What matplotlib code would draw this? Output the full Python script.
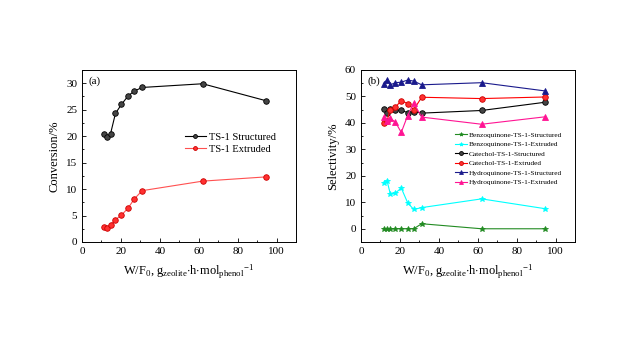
import numpy as np
import matplotlib
matplotlib.use('Agg')
import matplotlib.pyplot as plt
import matplotlib.ticker as ticker

plt.rcParams['font.family'] = ['Liberation Serif', 'DejaVu Serif']
plt.rcParams['mathtext.fontset'] = 'custom'
plt.rcParams['mathtext.rm'] = 'Liberation Serif'
plt.rcParams['mathtext.it'] = 'Liberation Serif'

# panel (a) data
wf = [11.3, 13.0, 14.7, 17.2, 20.3, 23.7, 26.8, 30.9, 62.0, 94.5]
conv_structured = [20.5, 19.8, 20.5, 24.3, 26.0, 27.6, 28.5, 29.2, 29.9, 26.7]
conv_extruded = [2.8, 2.7, 3.3, 4.2, 5.1, 6.4, 8.1, 9.7, 11.5, 12.3]

# panel (b) data
wf_b = [11.6, 13.4, 15.1, 17.7, 20.7, 24.0, 27.1, 31.2, 62.0, 94.5]
bq_structured = [0, 0, 0, 0, 0, 0, 0, 1.9, 0, 0]
bq_extruded = [17.3, 18.1, 13.1, 13.5, 15.4, 9.8, 7.3, 8.0, 11.3, 7.6]
cat_structured = [45.4, 43.9, 45.4, 44.8, 44.7, 43.9, 44.3, 43.7, 44.7, 47.8]
cat_extruded = [40.1, 40.9, 45.0, 46.0, 48.4, 47.3, 45.0, 49.7, 49.2, 49.8]
hq_structured = [54.8, 56.3, 54.4, 55.2, 55.4, 56.2, 55.8, 54.4, 55.2, 52.1]
hq_extruded = [42.2, 40.6, 41.7, 40.3, 36.4, 42.8, 47.5, 42.2, 39.5, 42.3]

labels_b = ['Benzoquinone-TS-1-Structured', 'Benzoquinone-TS-1-Extruded',
            'Catechol-TS-1-Structured', 'Catechol-TS-1-Extruded',
            'Hydroquinone-TS-1-Structured', 'Hydroquinone-TS-1-Extruded']

xlab = r'W/F$_{0}$, g$_{\rm zeolite}$$\cdot$h$\cdot$mol$_{\rm phenol}$$^{-1}$'

fig = plt.figure(figsize=(6.24, 3.37), dpi=100)
ax1 = fig.add_axes([0.1314, 0.2819, 0.343, 0.5104])
ax2 = fig.add_axes([0.5785, 0.2819, 0.343, 0.5104])

ax1.plot(wf, conv_structured, color='black', lw=0.8, marker='o', ms=4,
         mfc='#444444', mec='black', mew=0.6, label='TS-1 Structured')
ax1.plot(wf, conv_extruded, color='#ff5050', lw=0.8, marker='o', ms=4,
         mfc='#ff3030', mec='#cc0000', mew=0.6, label='TS-1 Extruded')
ax1.set_xlim(0, 110)
ax1.set_ylim(0, 32.5)
ax1.xaxis.set_major_locator(ticker.MultipleLocator(20))
ax1.xaxis.set_minor_locator(ticker.MultipleLocator(10))
ax1.yaxis.set_major_locator(ticker.MultipleLocator(5))
ax1.yaxis.set_minor_locator(ticker.MultipleLocator(2.5))
ax1.set_ylabel('Conversion/%', fontsize=9)
ax1.set_xlabel(xlab, fontsize=9, labelpad=5)
ax1.text(0.03, 0.96, '(a)', transform=ax1.transAxes, fontsize=8, va='top', ha='left')
ax1.legend(loc='center right', bbox_to_anchor=(0.95, 0.575), frameon=False, fontsize=7.5,
           handlelength=2.0, handletextpad=0.3, labelspacing=0.3, markerscale=0.7)

styles = [
    dict(color='#228b22', marker='*', mfc='#228b22', mec='#228b22'),
    dict(color='cyan', marker='*', mfc='cyan', mec='cyan'),
    dict(color='black', marker='o', mfc='#444444', mec='black'),
    dict(color='red', marker='o', mfc='#ff3030', mec='#cc0000'),
    dict(color='#1a1a8c', marker='^', mfc='#1a1a8c', mec='#1a1a8c'),
    dict(color='#ff1493', marker='^', mfc='#ff1493', mec='#ff1493'),
]
series_b = [bq_structured, bq_extruded, cat_structured, cat_extruded, hq_structured, hq_extruded]
for vals, lab, st in zip(series_b, labels_b, styles):
    ax2.plot(wf_b, vals, lw=0.8, ms=4, mew=0.6, label=lab, **st)
ax2.set_xlim(0, 110)
ax2.set_ylim(-5, 60)
ax2.xaxis.set_major_locator(ticker.MultipleLocator(20))
ax2.xaxis.set_minor_locator(ticker.MultipleLocator(10))
ax2.yaxis.set_major_locator(ticker.MultipleLocator(10))
ax2.yaxis.set_minor_locator(ticker.MultipleLocator(5))
ax2.set_ylabel('Selectivity/%', fontsize=9)
ax2.set_xlabel(xlab, fontsize=9, labelpad=5)
ax2.text(0.03, 0.96, '(b)', transform=ax2.transAxes, fontsize=8, va='top', ha='left')
ax2.legend(loc='center right', bbox_to_anchor=(0.97, 0.485), frameon=False, fontsize=5.3,
           handlelength=1.6, handletextpad=0.3, labelspacing=0.45, markerscale=0.7)

for ax in (ax1, ax2):
    ax.tick_params(which='both', direction='in', labelsize=8, width=0.6)
    ax.tick_params(which='major', length=3)
    ax.tick_params(which='minor', length=1.5)
    for s in ax.spines.values():
        s.set_linewidth(0.7)

plt.savefig('out.png', dpi=100)
